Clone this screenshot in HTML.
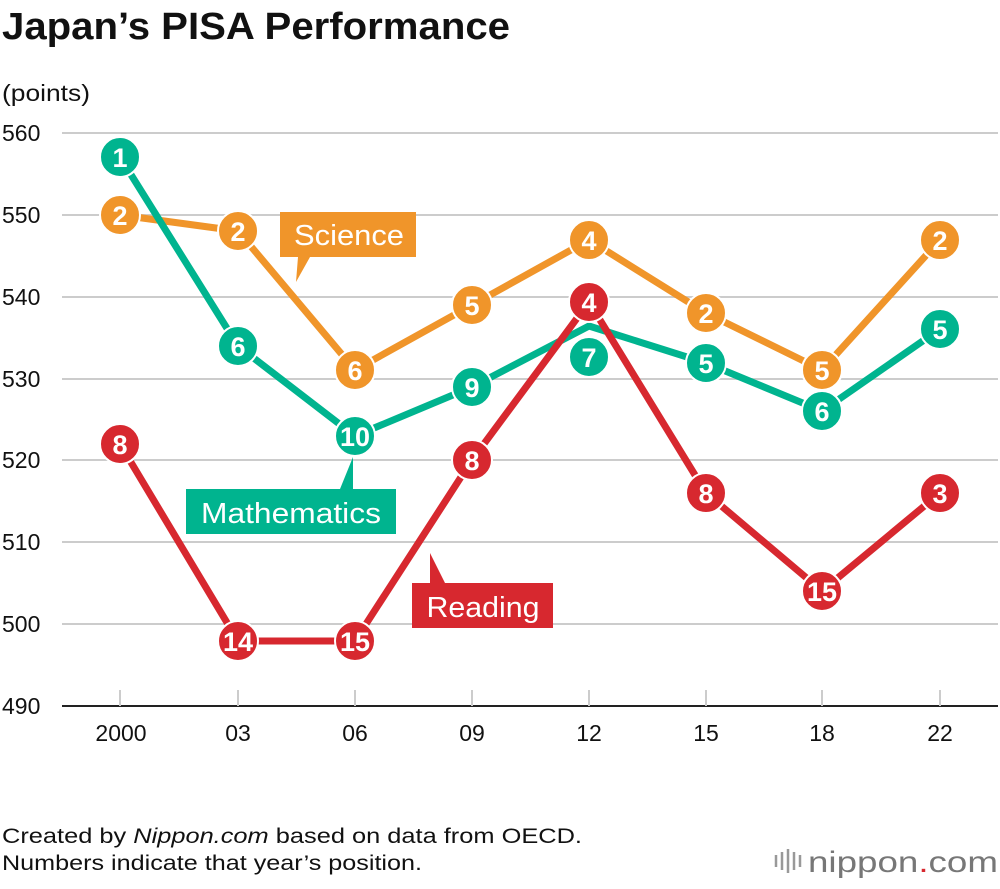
<!DOCTYPE html>
<html><head><meta charset="utf-8"><style>
body{margin:0;background:#fff;font-family:"Liberation Sans",sans-serif}
</style></head><body>
<svg width="1000" height="884" xmlns="http://www.w3.org/2000/svg" font-family="Liberation Sans, sans-serif">
<text x="2" y="39" font-size="38" font-weight="bold" fill="#111" textLength="508" lengthAdjust="spacingAndGlyphs">Japan’s PISA Performance</text>
<text x="2" y="101" font-size="23" fill="#111" textLength="88" lengthAdjust="spacingAndGlyphs">(points)</text>
<g stroke="#ccc" stroke-width="2">
<line x1="62" y1="133" x2="998" y2="133"/><line x1="62" y1="215" x2="998" y2="215"/>
<line x1="62" y1="297" x2="998" y2="297"/><line x1="62" y1="379" x2="998" y2="379"/>
<line x1="62" y1="460" x2="998" y2="460"/><line x1="62" y1="542" x2="998" y2="542"/>
<line x1="62" y1="624" x2="998" y2="624"/>
</g>
<line x1="62" y1="706" x2="998" y2="706" stroke="#222" stroke-width="2"/>
<g stroke="#ccc" stroke-width="2">
<line x1="120" y1="690" x2="120" y2="706"/><line x1="238" y1="690" x2="238" y2="706"/><line x1="355" y1="690" x2="355" y2="706"/><line x1="472" y1="690" x2="472" y2="706"/><line x1="589" y1="690" x2="589" y2="706"/><line x1="706" y1="690" x2="706" y2="706"/><line x1="822" y1="690" x2="822" y2="706"/><line x1="940" y1="690" x2="940" y2="706"/>
</g>
<g font-size="23" fill="#111">
<text x="2" y="141">560</text><text x="2" y="223">550</text><text x="2" y="305">540</text><text x="2" y="387">530</text><text x="2" y="468">520</text><text x="2" y="550">510</text><text x="2" y="632">500</text><text x="2" y="714">490</text>
</g>
<g font-size="23" fill="#111" text-anchor="middle">
<text x="121" y="741">2000</text><text x="238" y="741">03</text><text x="355" y="741">06</text><text x="472" y="741">09</text><text x="589" y="741">12</text><text x="706" y="741">15</text><text x="822" y="741">18</text><text x="940" y="741">22</text>
</g>
<path d="M280 212H416V257H310L296 282L298 257H280Z" fill="#f0952a"/>
<text x="349" y="245" font-size="29" fill="#fff" text-anchor="middle" textLength="110" lengthAdjust="spacingAndGlyphs">Science</text>
<path d="M186 489H396V534H186Z M340 489L353 457V489Z" fill="#00b48f"/>
<text x="291" y="523" font-size="29" fill="#fff" text-anchor="middle" textLength="180" lengthAdjust="spacingAndGlyphs">Mathematics</text>
<path d="M412 583H553V628H412Z M430 583V553L445 583Z" fill="#d7282f"/>
<text x="483" y="617" font-size="29" fill="#fff" text-anchor="middle" textLength="113" lengthAdjust="spacingAndGlyphs">Reading</text>
<g fill="none" stroke-width="7" stroke-linejoin="round">
<polyline stroke="#f0952a" points="120,215 238,231 355,370 472,305 589,240 706,313 822,370 940,240"/>
<polyline stroke="#00b48f" points="120,157 238,346 355,436 472,387 589,326 706,363 822,411 940,329"/>
<polyline stroke="#d7282f" points="120,444 238,641 355,641 472,460 589,302 706,493 822,591 940,493"/>
</g>
<g stroke="#fff" stroke-width="2">
<g fill="#f0952a"><circle cx="120" cy="215" r="20"/><circle cx="238" cy="231" r="20"/><circle cx="355" cy="370" r="20"/><circle cx="472" cy="305" r="20"/><circle cx="589" cy="240" r="20"/><circle cx="706" cy="313" r="20"/><circle cx="822" cy="370" r="20"/><circle cx="940" cy="240" r="20"/></g>
<g fill="#00b48f"><circle cx="120" cy="157" r="20"/><circle cx="238" cy="346" r="20"/><circle cx="355" cy="436" r="20"/><circle cx="472" cy="387" r="20"/><circle cx="589" cy="357" r="20"/><circle cx="706" cy="363" r="20"/><circle cx="822" cy="411" r="20"/><circle cx="940" cy="329" r="20"/></g>
<g fill="#d7282f"><circle cx="120" cy="444" r="20"/><circle cx="238" cy="641" r="20"/><circle cx="355" cy="641" r="20"/><circle cx="472" cy="460" r="20"/><circle cx="589" cy="302" r="20"/><circle cx="706" cy="493" r="20"/><circle cx="822" cy="591" r="20"/><circle cx="940" cy="493" r="20"/></g>
</g>
<g font-size="27" font-weight="bold" fill="#fff" text-anchor="middle">
<text x="120" y="225">2</text><text x="238" y="241">2</text><text x="355" y="380">6</text><text x="472" y="315">5</text><text x="589" y="250">4</text><text x="706" y="323">2</text><text x="822" y="380">5</text><text x="940" y="250">2</text>
<text x="120" y="167">1</text><text x="238" y="356">6</text><text x="355" y="446" textLength="30" lengthAdjust="spacingAndGlyphs">10</text><text x="472" y="397">9</text><text x="589" y="367">7</text><text x="706" y="373">5</text><text x="822" y="421">6</text><text x="940" y="339">5</text>
<text x="120" y="454">8</text><text x="238" y="651" textLength="30" lengthAdjust="spacingAndGlyphs">14</text><text x="355" y="651" textLength="30" lengthAdjust="spacingAndGlyphs">15</text><text x="472" y="470">8</text><text x="589" y="312">4</text><text x="706" y="503">8</text><text x="822" y="601" textLength="30" lengthAdjust="spacingAndGlyphs">15</text><text x="940" y="503">3</text>
</g>
<text x="2" y="843" font-size="21" fill="#111" textLength="580" lengthAdjust="spacingAndGlyphs">Created by <tspan font-style="italic">Nippon.com</tspan> based on data from OECD.</text>
<text x="2" y="870" font-size="21" fill="#111" textLength="420" lengthAdjust="spacingAndGlyphs">Numbers indicate that year’s position.</text>
<g stroke="#999" stroke-width="2.5">
<line x1="776" y1="855" x2="776" y2="867"/><line x1="782" y1="852" x2="782" y2="870"/><line x1="788" y1="849" x2="788" y2="873"/><line x1="794" y1="852" x2="794" y2="870"/><line x1="800" y1="855" x2="800" y2="867"/>
</g>
<text x="808" y="872" font-size="30" fill="#777" textLength="190" lengthAdjust="spacingAndGlyphs">nippon<tspan fill="#d7282f">.</tspan>com</text>
</svg>
</body></html>
